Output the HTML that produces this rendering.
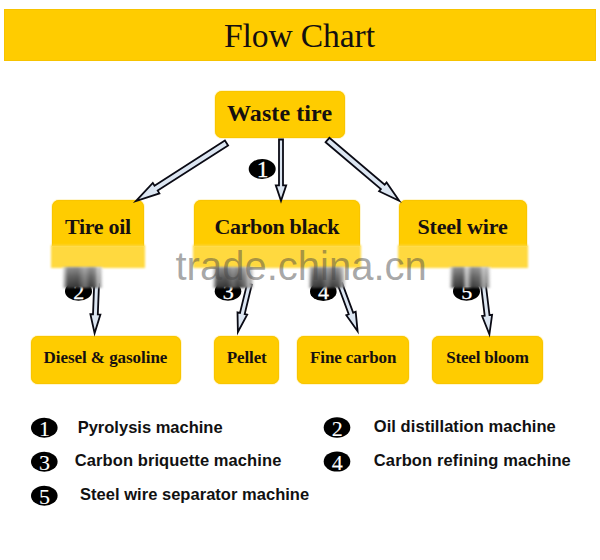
<!DOCTYPE html>
<html><head><meta charset="utf-8"><style>
html,body{margin:0;padding:0;background:#fff;width:600px;height:560px;overflow:hidden;position:relative}
.hdr{position:absolute;left:4px;top:9px;width:592px;height:52px;background:#FFCC00;box-shadow:inset 0 0 0 1px #F7C300}
.box{position:absolute;background:#FFCC00;box-shadow:inset 0 0 0 1px #F9C500,0 0 0 1px rgba(255,236,150,0.45)}
.band{position:absolute;top:245px;height:23px;background:#FFD93F;filter:blur(1.1px)}
.sm{position:absolute;top:267px;height:21px;filter:blur(0.8px)}
.serif{position:absolute;font-family:"Liberation Serif",serif;font-weight:bold;color:#161010;white-space:nowrap;line-height:1}
.title{position:absolute;font-family:"Liberation Serif",serif;color:#141010;white-space:nowrap;line-height:1}
.sans{position:absolute;font-family:"Liberation Sans",sans-serif;font-weight:bold;color:#111;white-space:nowrap;line-height:1}
.wm{position:absolute;font-family:"Liberation Sans",sans-serif;color:rgba(70,70,70,0.47);white-space:nowrap;line-height:1}
svg{position:absolute;left:0;top:0}
</style></head><body>
<div class="hdr"></div>
<div class="title" style="left:223.9px;top:18.66px;font-size:33.6px;letter-spacing:-0.1px">Flow Chart</div>
<div class="box" style="left:215px;top:91px;width:130px;height:47px;border-radius:7px"></div>
<div class="box" style="left:52px;top:200px;width:92px;height:46px;border-radius:7px 7px 0 0"></div>
<div class="box" style="left:194px;top:200px;width:166px;height:46px;border-radius:7px 7px 0 0"></div>
<div class="box" style="left:399px;top:200px;width:128px;height:46px;border-radius:7px 7px 0 0"></div>
<div class="band" style="left:51px;width:94px"></div>
<div class="band" style="left:193px;width:168px"></div>
<div class="band" style="left:398px;width:130px"></div>
<div class="box" style="left:31.4px;top:336px;width:149.2px;height:48px;border-radius:7px"></div>
<div class="box" style="left:214px;top:336px;width:65px;height:48px;border-radius:7px"></div>
<div class="box" style="left:297px;top:336px;width:112px;height:48px;border-radius:7px"></div>
<div class="box" style="left:432px;top:336px;width:111px;height:48px;border-radius:7px"></div>
<div class="serif" style="left:227px;top:100.90px;font-size:24px;letter-spacing:0.1px">Waste tire</div>
<div class="serif" style="left:65px;top:216.27px;font-size:22px;letter-spacing:-0.3px">Tire oil</div>
<div class="serif" style="left:214.5px;top:216.38px;font-size:22px;letter-spacing:-0.36px">Carbon black</div>
<div class="serif" style="left:417.5px;top:216.07px;font-size:22px;letter-spacing:-0.18px">Steel wire</div>
<div class="serif" style="left:43.5px;top:348.56px;font-size:17px;letter-spacing:-0.05px">Diesel &amp; gasoline</div>
<div class="serif" style="left:226.7px;top:348.86px;font-size:17px;letter-spacing:-0.1px">Pellet</div>
<div class="serif" style="left:310px;top:348.66px;font-size:17px;letter-spacing:-0.1px">Fine carbon</div>
<div class="serif" style="left:446.3px;top:348.66px;font-size:17px;letter-spacing:-0.2px">Steel bloom</div>
<div class="sans" style="left:77.7px;top:418.73px;font-size:16.5px;letter-spacing:0px">Pyrolysis machine</div>
<div class="sans" style="left:74.8px;top:452.23px;font-size:16.5px;letter-spacing:0.09px">Carbon briquette machine</div>
<div class="sans" style="left:80px;top:486.33px;font-size:16.5px;letter-spacing:0.03px">Steel wire separator machine</div>
<div class="sans" style="left:373.8px;top:417.63px;font-size:16.5px;letter-spacing:0.06px">Oil distillation machine</div>
<div class="sans" style="left:373.8px;top:452.03px;font-size:16.5px;letter-spacing:0.12px">Carbon refining machine</div>
<svg width="600" height="560" viewBox="0 0 600 560">
<g fill="#DCE6F2" stroke="#0a0a14" stroke-width="1.8" stroke-linejoin="miter" stroke-miterlimit="10">
<polygon points="279.0,139.5 279.0,185.3 275.8,185.3 281.0,200.8 286.2,185.3 283.0,185.3 283.0,139.5"/>
<polygon points="224.9,140.6 154.5,185.7 152.8,182.9 135.9,201.1 159.4,193.4 157.7,190.6 228.1,145.4"/>
<polygon points="325.6,142.2 380.9,189.1 379.1,191.3 399.2,200.8 386.6,182.5 384.7,184.7 329.4,137.8"/>
<polygon points="94.2,283.9 93.0,314.2 90.4,314.1 94.6,333.3 100.4,314.5 97.8,314.4 99.0,284.1"/>
<polygon points="247.2,283.4 240.0,313.0 237.5,312.4 237.9,332.0 247.2,314.7 244.7,314.1 251.8,284.6"/>
<polygon points="337.8,284.8 348.7,314.3 346.3,315.2 357.6,331.3 355.7,311.7 353.2,312.7 342.2,283.2"/>
<polygon points="480.9,284.3 484.7,315.7 482.1,316.0 489.4,334.3 492.1,314.8 489.5,315.1 485.7,283.7"/>
</g>
<ellipse cx="262.2" cy="169" rx="13.5" ry="10" fill="#000"/><text x="262.5" y="176.8" font-size="23.5" text-anchor="middle" fill="#fff" stroke="#fff" stroke-width="0.3" font-family="Liberation Serif">1</text>
<ellipse cx="78.5" cy="291.3" rx="13.5" ry="9.5" fill="#000"/><text x="78.8" y="298.6" font-size="22" text-anchor="middle" fill="#fff" stroke="#fff" stroke-width="0.3" font-family="Liberation Serif">2</text>
<ellipse cx="228" cy="291.3" rx="13.3" ry="9.5" fill="#000"/><text x="228.3" y="298.6" font-size="22" text-anchor="middle" fill="#fff" stroke="#fff" stroke-width="0.3" font-family="Liberation Serif">3</text>
<ellipse cx="323.3" cy="291.5" rx="13.3" ry="9.5" fill="#000"/><text x="323.6" y="298.8" font-size="22" text-anchor="middle" fill="#fff" stroke="#fff" stroke-width="0.3" font-family="Liberation Serif">4</text>
<ellipse cx="466.5" cy="291.3" rx="13.5" ry="9.5" fill="#000"/><text x="466.8" y="298.6" font-size="22" text-anchor="middle" fill="#fff" stroke="#fff" stroke-width="0.3" font-family="Liberation Serif">5</text>
<ellipse cx="44.3" cy="427.7" rx="13.3" ry="10" fill="#000"/><text x="44.599999999999994" y="436.0" font-size="22" text-anchor="middle" fill="#fff" stroke="#fff" stroke-width="0.1" font-family="Liberation Serif">1</text>
<ellipse cx="44.3" cy="461.7" rx="13.3" ry="10" fill="#000"/><text x="44.599999999999994" y="470.2" font-size="22" text-anchor="middle" fill="#fff" stroke="#fff" stroke-width="0.1" font-family="Liberation Serif">3</text>
<ellipse cx="44.3" cy="495.7" rx="13.3" ry="10" fill="#000"/><text x="44.599999999999994" y="504.3" font-size="22" text-anchor="middle" fill="#fff" stroke="#fff" stroke-width="0.1" font-family="Liberation Serif">5</text>
<ellipse cx="337" cy="427.5" rx="13.3" ry="10.2" fill="#000"/><text x="337.3" y="436.0" font-size="22" text-anchor="middle" fill="#fff" stroke="#fff" stroke-width="0.1" font-family="Liberation Serif">2</text>
<ellipse cx="337" cy="461.5" rx="13.3" ry="10.1" fill="#000"/><text x="337.3" y="470.0" font-size="22" text-anchor="middle" fill="#fff" stroke="#fff" stroke-width="0.1" font-family="Liberation Serif">4</text>
</svg>
<div class="sm" style="left:62px;width:41px;background:linear-gradient(to bottom,rgba(255,255,255,0.45),rgba(255,255,255,0.22) 45%,rgba(255,255,255,0) 100%),linear-gradient(to right,rgba(60,60,60,0) 0%,#3a3a3a 14%,#303030 38%,#5a5a5a 50%,#6a6a6a 56%,#383838 70%,#505050 80%,#b0b0b0 88%,#909090 92%,rgba(150,150,150,0) 100%)"></div>
<div class="sm" style="left:212px;width:42px;background:linear-gradient(to bottom,rgba(255,255,255,0.45),rgba(255,255,255,0.22) 45%,rgba(255,255,255,0) 100%),linear-gradient(to right,rgba(60,60,60,0) 0%,#3a3a3a 12%,#303030 35%,#5a5a5a 50%,#383838 62%,#505050 72%,#707070 80%,#b0b0b0 87%,#909090 92%,rgba(150,150,150,0) 100%)"></div>
<div class="sm" style="left:308px;width:38px;background:linear-gradient(to bottom,rgba(255,255,255,0.45),rgba(255,255,255,0.22) 45%,rgba(255,255,255,0) 100%),linear-gradient(to right,rgba(60,60,60,0) 0%,#3a3a3a 12%,#303030 35%,#606060 50%,#383838 65%,#484848 80%,#909090 90%,rgba(150,150,150,0) 100%)"></div>
<div class="sm" style="left:449px;width:42px;background:linear-gradient(to bottom,rgba(255,255,255,0.45),rgba(255,255,255,0.22) 45%,rgba(255,255,255,0) 100%),linear-gradient(to right,rgba(60,60,60,0) 0%,#3a3a3a 12%,#303030 32%,#b8b8b8 42%,#383838 55%,#484848 72%,#a0a0a0 82%,#808080 90%,rgba(150,150,150,0) 100%)"></div>
<div class="wm" style="left:175.5px;top:246.2px;font-size:40px">trade.china.cn</div>
</body></html>
